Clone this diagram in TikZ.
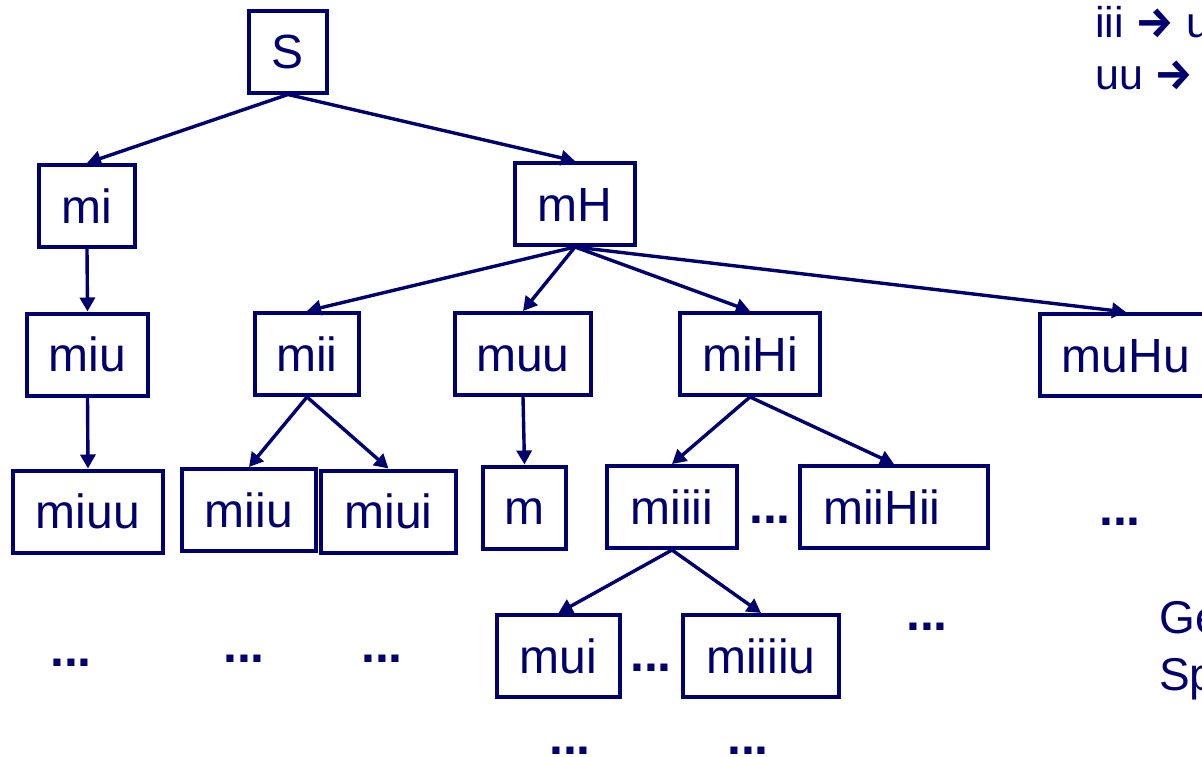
\documentclass[tikz,border=0pt]{standalone}
\usepackage{fontspec}
\setmainfont{Liberation Sans}
\newfontfamily\arrowfont{Fira Sans}
\usetikzlibrary{arrows.meta}
\definecolor{navy}{RGB}{0,0,110}
\newcommand{\ruleto}{{\arrowfont\fontseries{b}\selectfont →}}
\begin{document}
\begin{tikzpicture}[x=1pt,y=-1pt,
  every node/.style={text=navy,inner sep=0pt,font=\fontsize{48}{58}\selectfont},
  word/.style={draw=navy,line width=4pt,text height=34.5pt,text depth=0pt,
    minimum height=82pt},
  more/.style={font=\fontsize{50}{60}\selectfont\bfseries},
  note/.style={anchor=base west,font=\fontsize{43}{52}\selectfont},
  edge/.style={draw=navy,line width=3.4pt,-{Triangle[length=14pt,width=15pt]}}]
\useasboundingbox (0,0) rectangle (1202,756);
\clip (0,0) rectangle (1202,756);
\fill[white] (0,0) rectangle (1202,756);

% tree of derived words
\node[word,minimum width=78pt]  (S)      at (288,51.5)  {S};
\node[word,minimum width=96pt]  (mi)     at (87,206)    {mi};
\node[word,minimum width=120pt] (mH)     at (575,204)   {mH};
\node[word,minimum width=121pt] (miu)    at (87.5,354.5){miu};
\node[word,minimum width=104pt] (mii)    at (307,354)   {mii};
\node[word,minimum width=136pt] (muu)    at (523,354)   {muu};
\node[word,minimum width=140pt] (miHi)   at (750,354)   {miHi};
\node[word,minimum width=172pt] (muHu)   at (1126,355)  {muHu};
\node[word,minimum width=150pt] (miuu)   at (88,511.5)  {miuu};
\node[word,minimum width=134pt] (miiu)   at (249,510)   {miiu};
\node[word,minimum width=135pt] (miui)   at (388.5,511.5){miui};
\node[word,minimum width=83pt]  (m)      at (524.5,507.5){m};
\node[word,minimum width=130pt] (miiii)  at (672,507)   {miiii};
\node[word,minimum width=188pt] (miiHii) at (894,507)   {miiHii\rule{24pt}{0pt}};
\node[word,minimum width=123pt] (mui)    at (558.5,656) {mui};
\node[word,minimum width=156pt] (miiiiu) at (761,656)   {miiiiu};

% continuation marks
\node[more] (d1)  at (71,663)  {...};
\node[more] (d2)  at (244,659) {...};
\node[more] (d3)  at (382,659) {...};
\node[more] (d4)  at (770,520) {...};
\node[more] (d5)  at (651,668) {...};
\node[more] (d6)  at (1120,522){...};
\node[more] (d7)  at (927,627) {...};
\node[more] (d8)  at (570,751) {...};
\node[more] (d9)  at (748,751) {...};

% derivation steps
\draw[edge] (S.south) -- (mi.north);
\draw[edge] (S.south) -- (mH.north);
\draw[edge] (mi.south) -- (miu.north);
\draw[edge] (miu.south) -- (miuu.north);
\draw[edge] (mH.south) -- (mii.north);
\draw[edge] (mH.south) -- (muu.north);
\draw[edge] (mH.south) -- (miHi.north);
\draw[edge] (mH.south) -- (muHu.north);
\draw[edge] (mii.south) -- (miiu.north);
\draw[edge] (mii.south) -- (miui.north);
\draw[edge] (muu.south) -- (m.north);
\draw[edge] (miHi.south) -- (miiii.north);
\draw[edge] (miHi.south) -- (miiHii.north);
\draw[edge] (miiii.south) -- (mui.north);
\draw[edge] (miiii.south) -- (miiiiu.north);

% rules and remarks at the right edge
\node[note] (r1) at (1095,37) {iii \ruleto{} u};
\node[note] (r2) at (1095,89) {uu \ruleto};
\node[note,font=\fontsize{46}{56}\selectfont] (g1) at (1159,633) {Ge};
\node[note,font=\fontsize{46}{56}\selectfont] (g2) at (1159,690) {Sp};
\end{tikzpicture}
\end{document}
